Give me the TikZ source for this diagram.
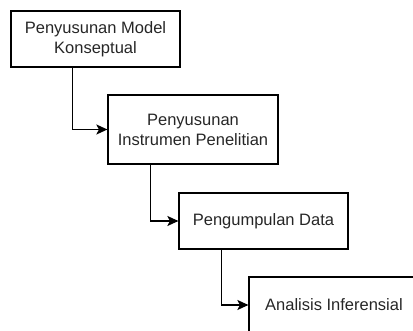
\documentclass[tikz,border=0pt]{standalone}
\usepackage{fontspec}
\setmainfont{Liberation Sans}
\usetikzlibrary{positioning}
\usetikzlibrary{arrows.meta}
\tikzstyle{pixels} = [x = 1pt, y = -1pt]
\tikzstyle{stepBox} = [draw, line width = 1.2pt, rectangle, inner sep = 0pt, align = center, text = black!85, font = \fontsize{16.5}{20}\selectfont]
\tikzstyle{flowArrow} = [line width = 1.3pt, -{Stealth[length = 11pt, width = 10pt, inset = 2.5pt]}]

\begin{document}
\begin{tikzpicture}[pixels]
          \useasboundingbox (0,0) rectangle (413,331);
          \clip (0,0) rectangle (413,331);

          \node [stepBox, minimum width = 169pt, minimum height = 56pt] (modelKonsep) at (95.5,39) {Penyusunan Model\\Konseptual};
          \node [stepBox, minimum width = 170pt, minimum height = 69pt] (instrumen) at (193,129.5) {Penyusunan\\Instrumen Penelitian};
          \node [stepBox, minimum width = 169pt, minimum height = 56pt] (pengumpulan) at (263.5,221) {Pengumpulan Data};
          \node [stepBox, minimum width = 170pt, minimum height = 56pt] (analisis) at (334,305) {Analisis Inferensial};

          \draw [flowArrow] ([xshift = 62pt]modelKonsep.south west) |- (instrumen.west);
          \draw [flowArrow] ([xshift = 43pt]instrumen.south west) |- (pengumpulan.west);
          \draw [flowArrow] ([xshift = 43pt]pengumpulan.south west) |- (analisis.west);
        \end{tikzpicture}
\end{document}
